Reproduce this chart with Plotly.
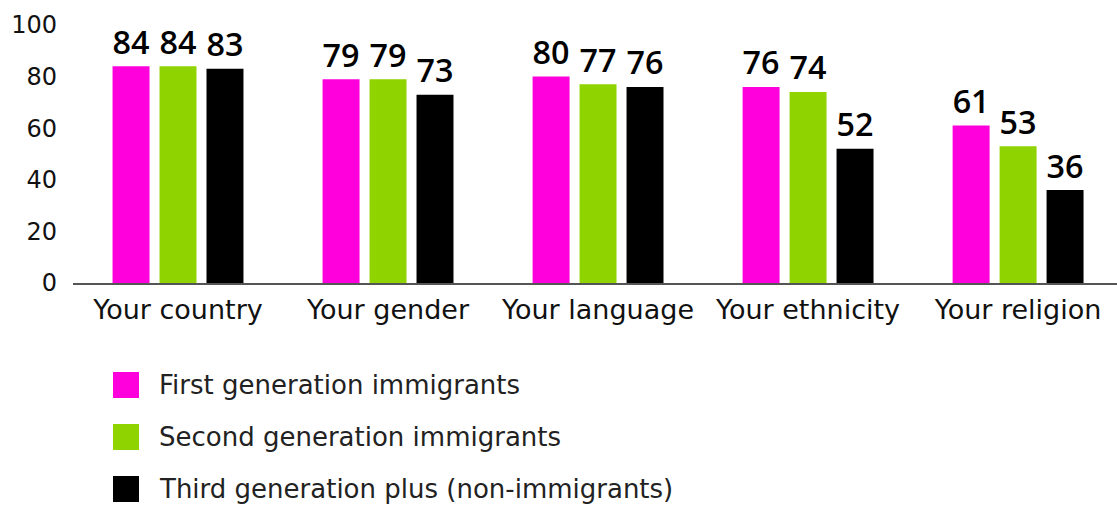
import plotly.graph_objects as go

categories = ["Your country", "Your gender", "Your language", "Your ethnicity", "Your religion"]
series_names = ["First generation immigrants", "Second generation immigrants", "Third generation plus (non-immigrants)"]
first_gen = [84, 79, 80, 76, 61]
second_gen = [84, 79, 77, 74, 53]
third_gen = [83, 73, 76, 52, 36]
colors = ["#ff00dc", "#8fd400", "#000000"]
y_ticks = [0, 20, 40, 60, 80, 100]

FONT = "DejaVu Sans, sans-serif"
LABEL_FONT = "Open Sans, sans-serif"

fig = go.Figure()
for name, vals, col in zip(series_names, [first_gen, second_gen, third_gen], colors):
    fig.add_trace(go.Bar(
        x=categories, y=vals, name=name, marker_color=col, marker_line_width=0,
        text=[str(v) for v in vals], textposition="outside", cliponaxis=False,
        textfont=dict(size=37, color="#000000", family=LABEL_FONT, weight=600),
        showlegend=False,
    ))

# legend drawn manually (large square swatches)
TOP = 25
BASE = 283
PLOT_H = BASE - TOP
for i, (name, col) in enumerate(zip(series_names, colors)):
    yc = 385 + i * 52
    fig.add_shape(type="rect", xref="paper", yref="paper",
                  x0=(113 - 73) / 1044, x1=(139 - 73) / 1044,
                  y0=(BASE - (yc + 13)) / PLOT_H,
                  y1=(BASE - (yc - 13)) / PLOT_H,
                  fillcolor=col, line_width=0)
    fig.add_annotation(xref="paper", yref="paper", x=(157 - 73) / 1044, y=(BASE - yc) / PLOT_H,
                       text=name, showarrow=False, xanchor="left", yanchor="middle",
                       font=dict(size=26, color="#222222", family=FONT))

fig.update_layout(
    width=1117, height=508,
    margin=dict(l=73, r=0, t=TOP, b=508 - BASE),
    plot_bgcolor="white", paper_bgcolor="white",
    barmode="group", bargap=0.329, bargroupgap=0.213,
    font=dict(family=FONT, color="#000000"),
)
fig.update_xaxes(range=[-0.5, 4.471], showline=True, linecolor="#555555", linewidth=1.5,
                 ticks="", tickfont=dict(size=27, color="#111111", family=FONT),
                 ticklabelstandoff=2, showgrid=False)
fig.update_yaxes(range=[0, 100], tickvals=y_ticks, showgrid=False, zeroline=False,
                 showline=False, ticks="", tickfont=dict(size=24, color="#111111", family=FONT),
                 ticklabelstandoff=15)

fig.write_html("out.html", config={"displayModeBar": False},
               post_script="document.body.style.margin='0';document.body.style.overflow='hidden';")
